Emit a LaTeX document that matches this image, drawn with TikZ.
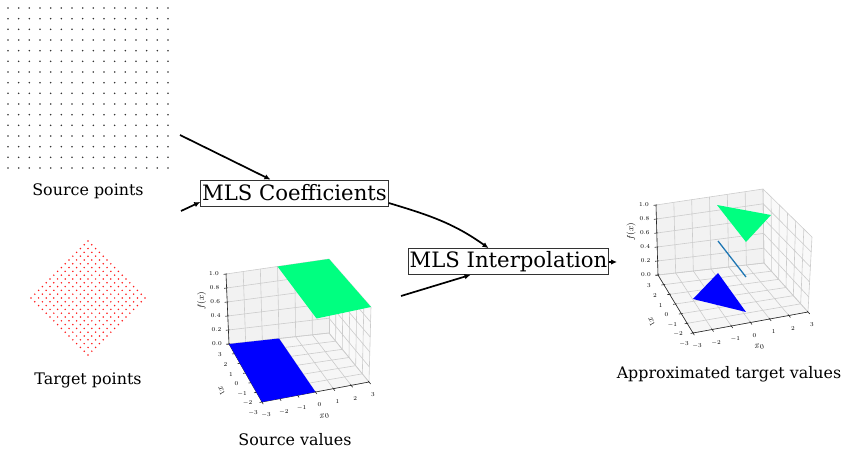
\documentclass[tikz,border=0pt]{standalone}
\usepackage{fontspec}
\setmainfont{DejaVu Serif}
\usetikzlibrary{calc,arrows.meta}
\definecolor{winterblue}{rgb}{0,0,1}
\definecolor{wintergreen}{rgb}{0,1,0.5}
\definecolor{mplblue}{HTML}{1F77B4}
\definecolor{paneX}{gray}{0.975}
\definecolor{paneY}{gray}{0.95}
\definecolor{paneZ}{gray}{0.9625}
\definecolor{gridcol}{gray}{0.80}
\tikzset{
  srcdot/.style={fill=black!80},
  tgtdot/.style={fill=red!90},
  lbl/.style={font=\fontsize{15.9}{18}\selectfont, inner sep=0pt},
  mlsbox/.style={draw=black!80, line width=0.8pt, fill=white, font=\fontsize{21.2}{24}\selectfont, inner xsep=1.5pt, inner ysep=0pt, minimum height=26pt},
  arr/.style={line width=1.7pt, -{Latex[length=6pt,width=5.5pt]}},
  gridln/.style={draw=gridcol, line width=0.6pt},
  axln/.style={draw=black!85, line width=0.6pt},
  ticklab/.style={font=\fontsize{6}{7}\selectfont, inner sep=0pt},
  axlab/.style={font=\fontsize{9.5}{11}\selectfont, inner sep=0pt},
}
\newcommand{\plotbox}[1]{%
  \fill[paneX] (K0)--(R0)--(R1)--(K1)--cycle;
  \fill[paneY] (B0)--(K0)--(K1)--(B1)--cycle;
  \fill[paneZ] (F0)--(R0)--(K0)--(B0)--cycle;
  \foreach \k in {0,...,6}{
    \draw[gridln] ($(F0)!\k/6!(R0)$) -- ($(B0)!\k/6!(K0)$);
    \draw[gridln] ($(F0)!\k/6!(B0)$) -- ($(R0)!\k/6!(K0)$);
    \draw[gridln] ($(B0)!\k/6!(K0)$) -- ($(B1)!\k/6!(K1)$);
    \draw[gridln] ($(R0)!\k/6!(K0)$) -- ($(R1)!\k/6!(K1)$);
  }
  \foreach \k in {0,...,5}{
    \draw[gridln] ($(B0)!\k/5!(B1)$) -- ($(K0)!\k/5!(K1)$);
    \draw[gridln] ($(R0)!\k/5!(R1)$) -- ($(K0)!\k/5!(K1)$);
  }
  \draw[axln] (B0) -- (B1);
  \draw[axln] (F0) -- (R0);
  \draw[axln] (B0) -- (F0);
  % ticks
  \foreach \k in {0,...,6}{
    \path ($(F0)!\k/6!(R0)$) coordinate (ta) ($(B0)!\k/6!(K0)$) coordinate (tb);
    \draw[axln] ($(ta)!1.2pt!(tb)$) -- ($(ta)!-2.5pt!(tb)$);
    \path ($(F0)!\k/6!(B0)$) coordinate (tc) ($(R0)!\k/6!(K0)$) coordinate (td);
    \draw[axln] ($(tc)!1.2pt!(td)$) -- ($(tc)!-2.5pt!(td)$);
  }
  \foreach \k in {0,...,5}{
    \path ($(B0)!\k/5!(B1)$) coordinate (te) ($(K0)!\k/5!(K1)$) coordinate (tf);
    \draw[axln] ($(te)!1.2pt!(tf)$) -- ($(te)!-2.5pt!(tf)$);
  }
  % tick labels
  \foreach \k/\lab in {0/3,1/2,2/1,3/0,4/-1,5/-2,6/-3}{
    \node[ticklab] (#1y\k) at ($(B0)!\k/6!(F0)+(-9,11)$) {$\lab$};
  }
  \foreach \k/\lab in {0/-3,1/-2,2/-1,3/0,4/1,5/2,6/3}{
    \node[ticklab] (#1x\k) at ($(F0)!\k/6!(R0)+(4,13)$) {$\lab$};
  }
  \foreach \k/\lab in {0/0.0,1/0.2,2/0.4,3/0.6,4/0.8,5/1.0}{
    \node[ticklab] (#1z\k) at ($(B0)!\k/5!(B1)+(-12,0)$) {$\lab$};
  }
  \node[axlab, rotate=10] (#1xl) at ($(F0)!0.5!(R0)+(9,24)$) {$x_0$};
  \node[axlab, rotate=-61] (#1yl) at ($(B0)!0.5!(F0)+(-24,18)$) {$x_1$};
  \node[axlab, rotate=90] (#1zl) at ($(B0)!0.5!(B1)+(-26,-8)$) {$f(x)$};
}
\begin{document}
\begin{tikzpicture}[x=1pt,y=-1pt]
\useasboundingbox (0,0) rectangle (844,449);
% source points
\foreach \i in {0,...,15}{\foreach \j in {0,...,15}{
  \fill[srcdot] ({8+\i*10.667},{8+\j*10.667}) circle[radius=0.9pt];}}
% target points
\foreach \i in {0,...,15}{\foreach \j in {0,...,15}{
  \fill[tgtdot] ({88+(\i-\j)*3.8},{298+(\i+\j-15)*3.8}) circle[radius=0.85pt];}}
% labels
\node[lbl] (srclab) at (88,191) {Source points};
\node[lbl] (tgtlab) at (88,380) {Target points};
\node[lbl] (svlab) at (295,440) {Source values};
\node[lbl] (atvlab) at (729,374) {Approximated target values};
% plot 1: source values
\begin{scope}
  \coordinate (B0) at (229,344);
  \coordinate (F0) at (262,402);
  \coordinate (R0) at (369,382);
  \coordinate (K0) at (329,333);
  \coordinate (B1) at (226,274);
  \coordinate (F1) at (262,330);
  \coordinate (R1) at (371,307);
  \coordinate (K1) at (329,259);
  \plotbox{p}
  \fill[winterblue] (B0) -- ($(B0)!0.5!(K0)$) -- ($(F0)!0.5!(R0)$) -- (F0) -- cycle;
  \fill[wintergreen] ($(B1)!0.5!(K1)$) -- (K1) -- (R1) -- ($(F1)!0.5!(R1)$) -- cycle;
\end{scope}
% plot 2: approximated target values
\begin{scope}
  \coordinate (B0) at (658,275);
  \coordinate (F0) at (693,333);
  \coordinate (R0) at (808,312);
  \coordinate (K0) at (764,263);
  \coordinate (B1) at (656,205);
  \coordinate (F1) at (693,262);
  \coordinate (R1) at (812,237);
  \coordinate (K1) at (763,189);
  \plotbox{q}
  \fill[winterblue] (718,273) -- (693,299) -- (746,312) -- cycle;
  \draw[mplblue, line width=1.3pt] (718,241) -- (746,277);
  \fill[wintergreen] (717,205) -- (771,215) -- (746,242) -- cycle;
\end{scope}
% boxes
\node[mlsbox] (mlsc) at (294.5,193) {MLS Coefficients};
\node[mlsbox] (mlsi) at (508.5,261.5) {MLS Interpolation};
% connectors
\coordinate (a1s) at (180,135);
\coordinate (a2s) at (181,211);
\coordinate (a4s) at (401,296);
\coordinate (a5e) at (617,262);
\draw[arr] (a1s) -- ($(mlsc.north)+(-24,0)$);
\draw[arr] (a2s) -- ($(mlsc.west)+(0,9)$);
\draw[arr] ($(mlsc.east)+(0,10)$) .. controls +(40,12) and +(-35,-25) .. ($(mlsi.north)+(-20,0)$);
\draw[arr] (a4s) -- ($(mlsi.south)+(-38,0)$);
\draw[arr] (mlsi.east |- a5e) -- (a5e);
\end{tikzpicture}
\end{document}
